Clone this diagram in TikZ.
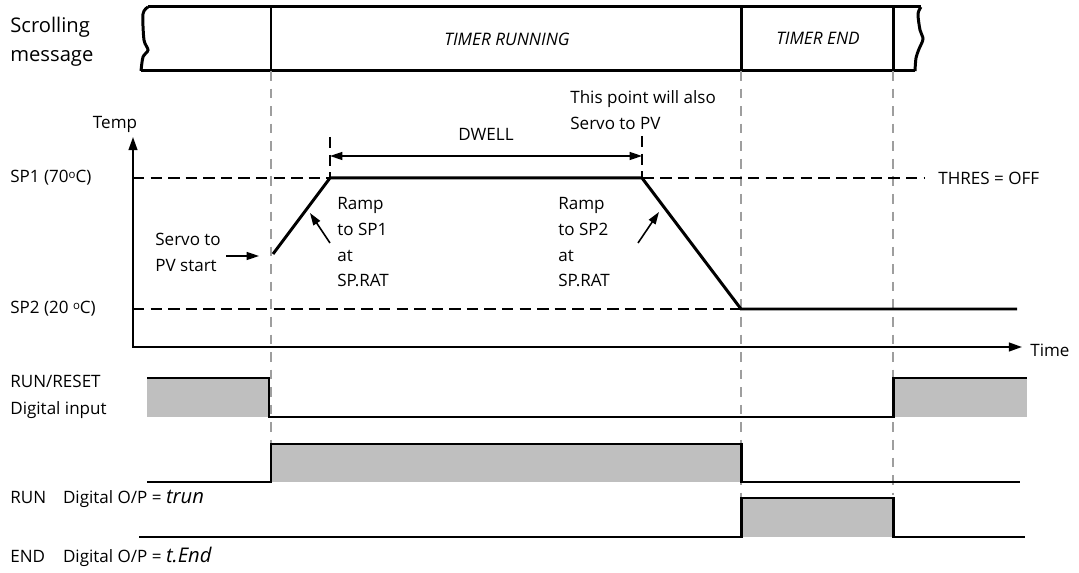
\documentclass[tikz,border=0pt]{standalone}
\usepackage{fontspec}
\setmainfont{Open Sans}
\usetikzlibrary{arrows.meta}
\newcommand{\degsup}{\raisebox{0.45ex}{\fontsize{6.5}{6.5}\selectfont o}}
\begin{document}
\begin{tikzpicture}[x=0.02cm,y=-0.02cm,
  sig/.style={line width=1.7pt},
  sigfill/.style={fill=black!25},
  guide/.style={black!38,line width=0.9pt,dash pattern=on 5.5pt off 4.5pt},
  level/.style={line width=0.8pt,dash pattern=on 6.5pt off 3.5pt},
  tip/.style={-{Triangle[length=7pt,width=4.5pt]},line width=0.9pt},
  lbl/.style={font=\fontsize{9.7}{14.7}\selectfont,inner sep=0pt,align=left},
  band/.style={font=\fontsize{9.8}{11}\selectfont\itshape,inner sep=0pt}]
\useasboundingbox (0,0) rectangle (1079,573);
% scrolling message band
\node[lbl,anchor=west,font=\fontsize{11.5}{16.5}\selectfont] (scroll) at (10,42) {Scrolling\\message};
\draw[sig] plot[smooth] coordinates {(148,7) (143,14) (144,40) (148,50) (143,57) (141,71)};
\draw[sig] plot[smooth] coordinates {(921,7) (918,14) (920,30) (923,39) (919,49) (916,58) (915,71)};
\draw[sig] (148,7) -- (921,7);
\draw[sig] (141,71) -- (915,71);
\draw[sig] (271,7) -- (271,71);
\draw[sig] (741,7) -- (741,71);
\draw[sig] (893,7) -- (893,71);
\node[band] (running) at (507,39) {TIMER RUNNING};
\node[band] (ended) at (818,38) {TIMER END};
% event guides
\draw[guide] (271,71) -- (271,482);
\draw[guide] (741,71) -- (741,498);
\draw[guide] (893,71) -- (893,495);
% temperature profile
\draw[line width=1.1pt,{Triangle[length=7.5pt,width=5pt]}-{Triangle[length=7.5pt,width=5pt]}] (133,137) |- (1022,347);
\node[lbl] (temp) at (115,124) {Temp};
\node[lbl,anchor=west] (time) at (1030,350) {Time};
\node[lbl,anchor=west] (sp1) at (10,178) {SP1 (70\degsup C)};
\node[lbl,anchor=west] (sp2) at (10,309) {SP2 (20 \degsup C)};
\node[lbl,anchor=west] (thres) at (938,178) {THRES = OFF};
\draw[level] (133,178) -- (925,178);
\draw[level] (133,309) -- (741,309);
\coordinate (start) at (273,254);
\coordinate (top1) at (330,178);
\coordinate (top2) at (642,178);
\coordinate (low) at (741,309);
\draw[sig] (start) -- (top1) -- (top2) -- (low) -- (1017,309);
% dwell
\draw[level] (330,137) -- (top1);
\draw[level] (642,136) -- (top2);
\draw[tip,{Triangle[length=7pt,width=4.5pt]}-{Triangle[length=7pt,width=4.5pt]}] (330,156) -- (642,156);
\node[lbl] (dwell) at (486,134) {DWELL};
\node[lbl,anchor=north west] (alsoservo) at (570,90) {This point will also\\Servo to PV};
% notes
\node[lbl,anchor=north west] (servo) at (155,233) {Servo to\\PV start};
\coordinate (servotail) at (226,256);
\coordinate (servohead) at (259,256);
\draw[tip] (servotail) -- (servohead);
\node[lbl,anchor=north west] (rampup) at (337,197) {Ramp\\to SP1\\at\\SP.RAT};
\coordinate (uptail) at (330,243);
\coordinate (uphead) at (310,213);
\draw[tip] (uptail) -- (uphead);
\node[lbl,anchor=north west] (rampdn) at (558,197) {Ramp\\to SP2\\at\\SP.RAT};
\coordinate (dntail) at (638,243);
\coordinate (dnhead) at (659,212);
\draw[tip] (dntail) -- (dnhead);
% digital lines
\node[lbl,anchor=west] (runreset) at (10,381) {RUN/RESET};
\node[lbl,anchor=west] (diginput) at (10,410) {Digital input};
\fill[sigfill] (147,378) rectangle (269,417);
\fill[sigfill] (893,378) rectangle (1027,417);
\draw[sig] (147,378) -- (269,378) -- (269,417) -- (893,417) -- (893,378) -- (1027,378);
\fill[sigfill] (271,444) rectangle (741,482);
\draw[sig] (147,482) -- (271,482) -- (271,444) -- (741,444) -- (741,482) -- (1020,482);
\node[lbl,anchor=west] (runout) at (10,499) {\makebox[30pt][l]{RUN}Digital O/P = {\fontsize{11.5}{11}\selectfont\itshape trun}};
\fill[sigfill] (741,498) rectangle (893,537);
\draw[sig] (139,537) -- (741,537) -- (741,498) -- (893,498) -- (893,537) -- (1025,537);
\node[lbl,anchor=west] (endout) at (10,557) {\makebox[30pt][l]{END}Digital O/P = {\fontsize{11.5}{11}\selectfont\itshape t.End}};
\end{tikzpicture}
\end{document}
